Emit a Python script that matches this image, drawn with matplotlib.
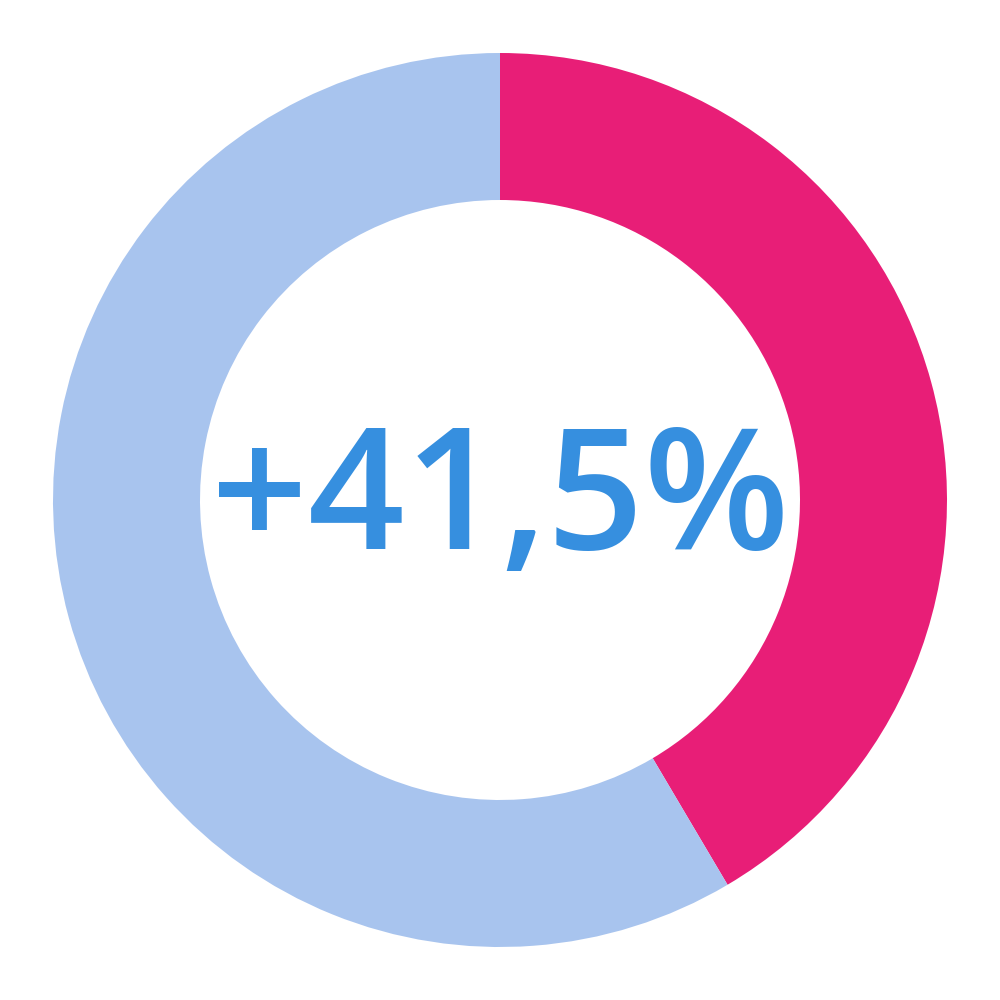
import matplotlib
matplotlib.use("Agg")
import matplotlib.pyplot as plt

labels = ["Growth", "Rest"]
values = [41.5, 58.5]
colors = ["#e81e77", "#a8c4ee"]
center_label = "+41,5%"

fig = plt.figure(figsize=(10, 10), dpi=100)
ax = fig.add_axes([0, 0, 1, 1])
ax.set_aspect("equal")
ax.axis("off")

ax.pie(values, colors=colors, startangle=90, counterclock=False,
       radius=447, center=(0, 0), frame=False,
       wedgeprops=dict(width=147, edgecolor="none", linewidth=0))
ax.set_xlim(-500, 500)
ax.set_ylim(-500, 500)

ax.text(0, -5, center_label, ha="center", va="center", fontsize=122,
        fontweight="semibold", color="#368fdf", family=["Open Sans", "DejaVu Sans"])

fig.savefig("out.png", dpi=100)
